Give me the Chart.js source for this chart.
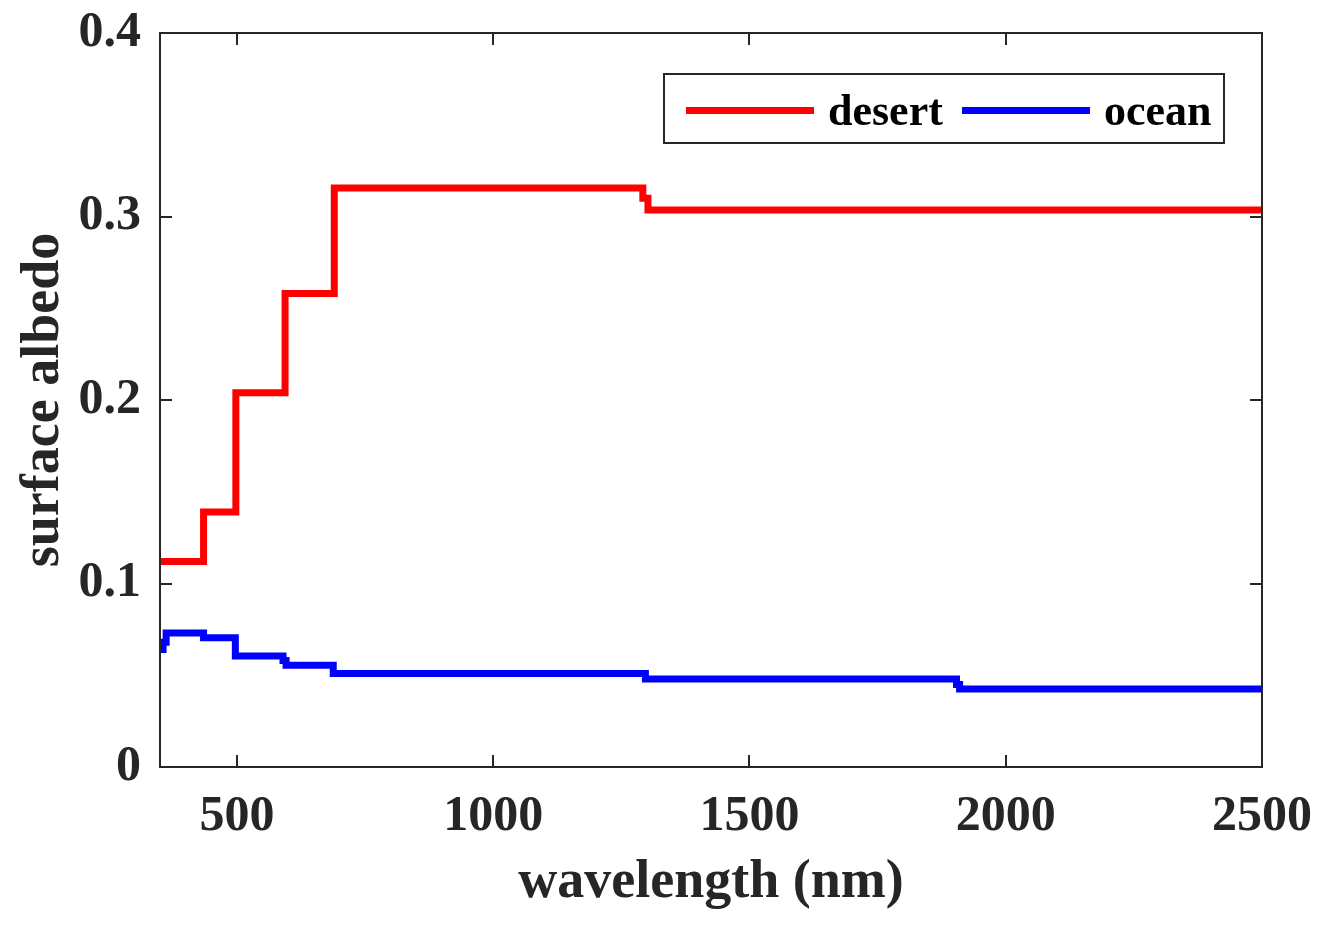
<!DOCTYPE html>
<html>
<head>
<meta charset="utf-8">
<script src="https://cdn.jsdelivr.net/npm/chart.js@4/dist/chart.umd.min.js"></script>
<style>
  html, body { margin: 0; padding: 0; background: #fff; }
  canvas { display: block; }
</style>
</head>
<body>
<canvas id="chart" width="1328" height="927"></canvas>
<script>
// --- data ---
const seriesNames = ['desert', 'ocean'];

// wavelength (nm) where each step starts, and the albedo value of that step
const desertWl  = [350, 435, 498, 594, 690, 1292, 1302, 2500];
const desertAlb = [0.112, 0.139, 0.204, 0.258, 0.3155, 0.310, 0.3035, 0.3035];

const oceanWl  = [350, 356, 362, 435, 497, 590, 596, 688, 1297, 1904, 1910, 2500];
const oceanAlb = [0.064, 0.068, 0.073, 0.0705, 0.0605, 0.058, 0.0555, 0.051, 0.048, 0.045, 0.0425, 0.0425];

const xTicks = [500, 1000, 1500, 2000, 2500];
const yTicks = [0, 0.1, 0.2, 0.3, 0.4];

const xLabel = 'wavelength (nm)';
const yLabel = 'surface albedo';

const FONT = '"Liberation Serif", "Times New Roman", serif';
const AXIS = '#262626';

function toPoints(xs, ys) {
    return xs.map((x, i) => ({ x: x, y: ys[i] }));
}

// box round the plot + inward ticks on all four sides, and the legend
const boxPlugin = {
    id: 'matlabBox',
    afterDatasetsDraw(chart) {
        const { ctx, chartArea: a, scales } = chart;
        const tl = 12;
        ctx.save();
        ctx.strokeStyle = AXIS;
        ctx.lineWidth = 2;
        ctx.strokeRect(a.left, a.top, a.right - a.left, a.bottom - a.top);
        ctx.beginPath();
        scales.x.ticks.forEach(t => {
            const px = Math.round(scales.x.getPixelForValue(t.value));
            ctx.moveTo(px, a.bottom); ctx.lineTo(px, a.bottom - tl);
            ctx.moveTo(px, a.top);    ctx.lineTo(px, a.top + tl);
        });
        scales.y.ticks.forEach(t => {
            const py = Math.round(scales.y.getPixelForValue(t.value));
            ctx.moveTo(a.left, py);  ctx.lineTo(a.left + tl, py);
            ctx.moveTo(a.right, py); ctx.lineTo(a.right - tl, py);
        });
        ctx.stroke();

        // legend, top right inside the axes
        const lx = 664, ly = 74, lw = 560, lh = 69;
        ctx.fillStyle = '#fff';
        ctx.fillRect(lx, ly, lw, lh);
        ctx.strokeRect(lx, ly, lw, lh);
        ctx.font = 'bold 44px ' + FONT;
        ctx.textBaseline = 'middle';
        const cy = ly + lh / 2 + 5;
        const items = [
            { line: 686, text: 828 },
            { line: 962, text: 1104 }
        ];
        chart.data.datasets.forEach((ds, i) => {
            ctx.strokeStyle = ds.borderColor;
            ctx.lineWidth = 7;
            ctx.beginPath();
            ctx.moveTo(items[i].line, cy - 3);
            ctx.lineTo(items[i].line + 128, cy - 3);
            ctx.stroke();
            ctx.fillStyle = '#000';
            ctx.fillText(ds.label, items[i].text, cy);
        });
        ctx.restore();
    }
};

new Chart(document.getElementById('chart'), {
    type: 'line',
    data: {
        datasets: [
            {
                label: seriesNames[0],
                data: toPoints(desertWl, desertAlb),
                borderColor: '#ff0000',
                borderWidth: 7,
                stepped: 'before',
                pointRadius: 0
            },
            {
                label: seriesNames[1],
                data: toPoints(oceanWl, oceanAlb),
                borderColor: '#0000ff',
                borderWidth: 7,
                stepped: 'before',
                pointRadius: 0
            }
        ]
    },
    options: {
        responsive: false,
        animation: false,
        devicePixelRatio: 1,
        layout: { padding: { left: 8, right: 66, top: 33, bottom: 8 } },
        plugins: { legend: { display: false }, tooltip: { enabled: false } },
        scales: {
            x: {
                type: 'linear',
                min: 350,
                max: 2500,
                afterBuildTicks: s => { s.ticks = xTicks.map(v => ({ value: v })); },
                afterFit: s => { s.height = 152; s.paddingLeft = 0; s.paddingRight = 0; },
                grid: { display: false },
                border: { display: false },
                ticks: {
                    color: AXIS,
                    padding: 12,
                    maxRotation: 0,
                    callback: v => String(v),
                    font: { family: FONT, size: 50, weight: 'bold' }
                },
                title: {
                    display: true,
                    text: xLabel,
                    color: AXIS,
                    padding: { top: 0 },
                    font: { family: FONT, size: 54, weight: 'bold' }
                }
            },
            y: {
                min: 0,
                max: 0.4,
                afterBuildTicks: s => { s.ticks = yTicks.map(v => ({ value: v })); },
                afterFit: s => { s.width = 152; s.paddingTop = 0; s.paddingBottom = 0; },
                grid: { display: false },
                border: { display: false },
                ticks: {
                    color: AXIS,
                    padding: 11,
                    callback: v => String(v),
                    font: { family: FONT, size: 50, weight: 'bold' }
                },
                title: {
                    display: true,
                    text: yLabel,
                    color: AXIS,
                    padding: { bottom: 0 },
                    font: { family: FONT, size: 54, weight: 'bold' }
                }
            }
        }
    },
    plugins: [boxPlugin]
});
</script>
</body>
</html>
